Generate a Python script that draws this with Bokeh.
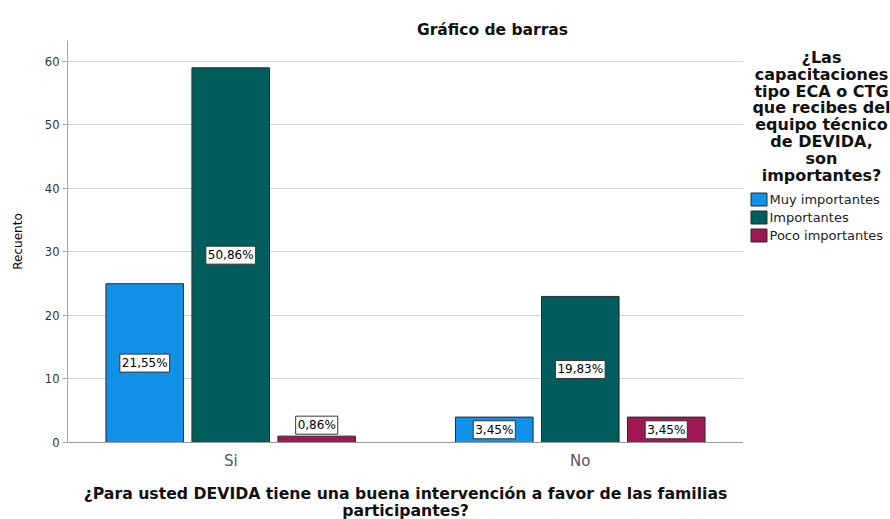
from bokeh.plotting import figure
from bokeh.models import ColumnDataSource, Range1d, FixedTicker
from bokeh.layouts import row, column
from bokeh.embed import file_html
from bokeh.resources import INLINE
from bokeh.core.properties import value

# ---------------- data ----------------
categorias = ["Si", "No"]
series = ["Muy importantes", "Importantes", "Poco importantes"]
muy_importantes = [25, 4]
importantes = [59, 23]
poco_importantes = [1, 4]
colores = ["#1192e8", "#005d5d", "#9f1853"]
y_ticks = [0, 10, 20, 30, 40, 50, 60]

titulo = "Gráfico de barras"
titulo_x = ["¿Para usted DEVIDA tiene una buena intervención a favor de las familias",
            "participantes?"]
titulo_y = "Recuento"
titulo_leyenda = ["¿Las", "capacitaciones", "tipo ECA o CTG", "que recibes del",
                  "equipo técnico", "de DEVIDA,", "son", "importantes?"]

valores = [muy_importantes, importantes, poco_importantes]
total = sum(sum(v) for v in valores)

# ---------------- layout (pixels) ----------------
FONT = "DejaVu Sans"
W_TOTAL, H_TOTAL = 890, 519
W_MAIN = 743
TOP_H = 40
BOT_H = 41
MAIN_H = H_TOTAL - TOP_H - BOT_H
L = 67
FH = 402
X0, X1 = -0.467, 1.467
Y0, Y1 = 0, 63.3


def blank(width, height, x_left, y_top):
    # a figure whose data units are page pixels (frames are aligned in the column)
    f = figure(width=width, height=height, output_backend="svg", toolbar_location=None,
               x_range=Range1d(x_left, x_left + width), y_range=Range1d(y_top + height, y_top),
               x_axis_type=None, y_axis_type=None,
               min_border_left=0, min_border_right=0, min_border_top=0, min_border_bottom=0)
    f.outline_line_color = None
    f.background_fill_color = "white"
    f.border_fill_color = "white"
    return f


# ---------------- title strip ----------------
top = blank(W_MAIN - L, TOP_H, L, 0)
top.width = W_MAIN
top.text(x=[492], y=[29], text=[titulo], text_align="center", text_baseline="middle",
         text_font=value(FONT), text_font_size="15.5px", text_font_style="bold",
         text_color="#111111")

# ---------------- main chart ----------------
p = figure(width=W_MAIN, height=MAIN_H, output_backend="svg", toolbar_location=None,
           x_range=Range1d(X0, X1), y_range=Range1d(Y0, Y1),
           min_border_left=L, min_border_right=0, min_border_top=0,
           min_border_bottom=MAIN_H - FH)
p.outline_line_color = None
p.background_fill_color = "white"
p.border_fill_color = "white"

offset = 0.246
bar_w = 0.222
px_per_unit = FH / (Y1 - Y0)

lx, ly, lt = [], [], []
for i, (nombre, vals, col) in enumerate(zip(series, valores, colores)):
    xs = [j + (i - 1) * offset for j in range(len(categorias))]
    src = ColumnDataSource(dict(x=xs, top=vals))
    p.vbar(x="x", top="top", bottom=0, width=bar_w, source=src,
           fill_color=col, line_color="#2b2b2b", line_width=1)
    for x, v in zip(xs, vals):
        lx.append(x)
        # label in the middle of the bar, above it if the bar is too short
        ly.append(v / 2 if v * px_per_unit > 22 else v + 11 / px_per_unit)
        lt.append(f"{100 * v / total:.2f}%".replace(".", ","))

lab_src = ColumnDataSource(dict(x=lx, y=ly, text=lt))
p.text(x="x", y="y", text="text", source=lab_src, text_align="center",
       text_baseline="middle", text_font=value(FONT), text_font_size="12px",
       text_color="black", background_fill_color="white",
       border_line_color="#333333", border_line_width=1, padding=2)

p.xgrid.grid_line_color = None
p.ygrid.grid_line_color = "#d4d4d4"
p.ygrid.ticker = FixedTicker(ticks=y_ticks)

p.yaxis.ticker = FixedTicker(ticks=y_ticks)
p.yaxis.axis_line_color = "#a8a8a8"
p.yaxis.major_tick_line_color = "#a8a8a8"
p.yaxis.minor_tick_line_color = None
p.yaxis.major_tick_out = 5
p.yaxis.major_tick_in = 0
p.yaxis.major_label_standoff = 3
p.yaxis.major_label_text_font = FONT
p.yaxis.major_label_text_font_size = "11.5px"
p.yaxis.major_label_text_color = "#333333"
p.yaxis.axis_label = titulo_y
p.yaxis.axis_label_text_font = FONT
p.yaxis.axis_label_text_font_size = "12px"
p.yaxis.axis_label_text_font_style = "normal"
p.yaxis.axis_label_text_color = "black"
p.yaxis.axis_label_standoff = 17

p.xaxis.ticker = FixedTicker(ticks=list(range(len(categorias))))
p.xaxis.major_label_overrides = {i: c for i, c in enumerate(categorias)}
p.xaxis.axis_line_color = "#999999"
p.xaxis.major_tick_line_color = None
p.xaxis.minor_tick_line_color = None
p.xaxis.major_label_standoff = 3
p.xaxis.major_label_text_font = FONT
p.xaxis.major_label_text_font_size = "15px"
p.xaxis.major_label_text_color = "#555555"

# ---------------- x-axis title strip ----------------
bot = blank(W_MAIN - L, BOT_H, L, H_TOTAL - BOT_H)
bot.width = W_MAIN
bot.text(x=[405, 405], y=[493, 510], text=titulo_x, text_align="center",
         text_baseline="middle", text_font=value(FONT), text_font_size="15.7px",
         text_font_style="bold", text_color="#111111")

# ---------------- legend side ----------------
side = blank(W_TOTAL - W_MAIN, H_TOTAL, W_MAIN, 0)
side.text(x=[821] * len(titulo_leyenda), y=[57 + 16.8 * k for k in range(len(titulo_leyenda))],
          text=titulo_leyenda, text_align="center", text_baseline="middle",
          text_font=value(FONT), text_font_size="16px", text_font_style="bold",
          text_color="#111111")
ley_y = [199 + 18 * k for k in range(len(series))]
side.rect(x=[758.5] * len(series), y=ley_y, width=16, height=13,
          fill_color=colores, line_color="#2b2b2b", line_width=1)
side.text(x=[769] * len(series), y=ley_y, text=series, text_align="left",
          text_baseline="middle", text_font=value(FONT), text_font_size="13px",
          text_color="#222222")

layout = row(column(top, p, bot, spacing=0), side, spacing=0)
open("out.html", "w").write(file_html(layout, INLINE, title="Gráfico de barras"))
